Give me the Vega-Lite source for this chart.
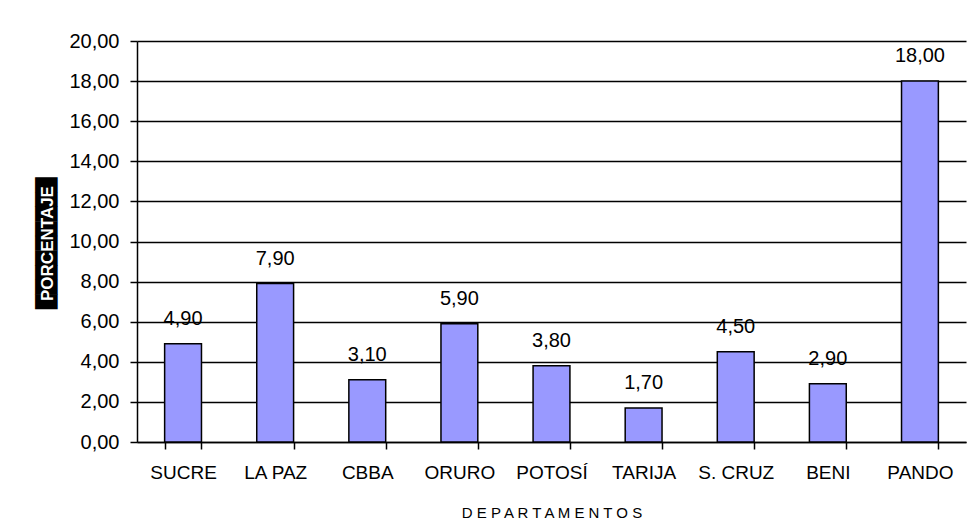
{
  "$schema": "https://vega.github.io/schema/vega-lite/v6.json",
  "width": 829,
  "height": 401,
  "autosize": {"type": "none"},
  "padding": {"left": 137, "top": 41, "right": 4, "bottom": 87},
  "background": "white",
  "config": {
    "locale": {"number": {"decimal": ",", "thousands": ".", "grouping": [3], "currency": ["", ""]}},
    "view": {"stroke": null},
    "font": "Liberation Sans"
  },
  "data": {
    "values": [
      {"dep": "SUCRE", "pct": 4.9},
      {"dep": "LA PAZ", "pct": 7.9},
      {"dep": "CBBA", "pct": 3.1},
      {"dep": "ORURO", "pct": 5.9},
      {"dep": "POTOSÍ", "pct": 3.8},
      {"dep": "TARIJA", "pct": 1.7},
      {"dep": "S. CRUZ", "pct": 4.5},
      {"dep": "BENI", "pct": 2.9},
      {"dep": "PANDO", "pct": 18.0}
    ]
  },
  "layer": [
    {
      "mark": {"type": "bar", "fill": "#9999FF", "stroke": "black", "strokeWidth": 1.5},
      "encoding": {
        "x": {
          "field": "dep", "type": "nominal", "sort": null,
          "scale": {"paddingInner": 0.6, "paddingOuter": 0.3},
          "axis": {
            "labelAngle": 0, "labelFontSize": 19, "labelColor": "black", "labelPadding": 14,
            "tickBand": "extent", "tickSize": 7, "tickColor": "black", "tickWidth": 1.5,
            "domainColor": "black", "domainWidth": 1.5,
            "title": "D E P A R T A M E N T O S",
            "titleFontSize": 15, "titleFontWeight": "normal", "titleColor": "black",
            "titleBaseline": "alphabetic", "titleY": 75
          }
        },
        "y": {
          "field": "pct", "type": "quantitative",
          "scale": {"domain": [0, 20], "nice": false},
          "axis": {
            "values": [0, 2, 4, 6, 8, 10, 12, 14, 16, 18, 20],
            "format": ".2f", "labelFontSize": 20, "labelColor": "black", "labelPadding": 11,
            "tickSize": 7, "tickColor": "black", "tickWidth": 1.5,
            "domainColor": "black", "domainWidth": 1.5,
            "grid": true, "gridColor": "black", "gridWidth": 1.5,
            "title": "█████████", "titleFont": "DejaVu Sans", "titleFontSize": 19,
            "titleFontWeight": "normal", "titleColor": "black",
            "titleAngle": -90, "titleAlign": "center", "titleBaseline": "middle",
            "titleX": -91, "titleY": 202, "zindex": 0
          }
        }
      }
    },
    {
      "mark": {"type": "text", "dy": -19, "baseline": "alphabetic", "fontSize": 20, "color": "black"},
      "encoding": {
        "x": {"field": "dep", "type": "nominal", "sort": null},
        "y": {
          "field": "pct", "type": "quantitative",
          "scale": {"domain": [0, 20], "nice": false},
          "axis": {
            "orient": "left", "labels": false, "ticks": false, "domain": false, "grid": false,
            "title": "PORCENTAJE", "titleFont": "Liberation Sans", "titleFontSize": 17,
            "titleFontWeight": "bold", "titleColor": "white",
            "titleAngle": -90, "titleAlign": "center", "titleBaseline": "middle",
            "titleX": -90, "titleY": 202, "zindex": 1
          }
        },
        "text": {"field": "pct", "type": "quantitative", "format": ".2f"}
      }
    }
  ],
  "resolve": {"scale": {"y": "independent"}}
}
